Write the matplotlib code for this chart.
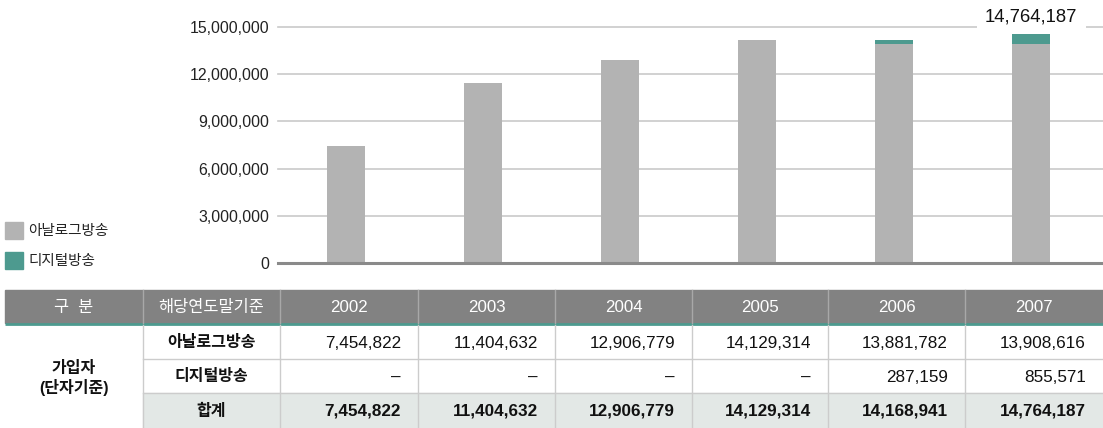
import matplotlib
matplotlib.use("Agg")
import matplotlib.pyplot as plt
from matplotlib.patches import Rectangle

plt.rcParams['font.family'] = ['Liberation Sans', 'Noto Sans CJK KR', 'DejaVu Sans']

# ---- data -------------------------------------------------------------
years = ["2002", "2003", "2004", "2005", "2006", "2007"]
analog = [7454822, 11404632, 12906779, 14129314, 13881782, 13908616]
digital = [0, 0, 0, 0, 287159, 855571]
series_names = ["아날로그방송", "디지털방송"]
total_name = "합계"
group_label = "가입자\n(단자기준)"
header_labels = ["구  분", "해당연도말기준"]
y_ticks = [0, 3000000, 6000000, 9000000, 12000000, 15000000]

totals = [a + d for a, d in zip(analog, digital)]

# ---- colours ----------------------------------------------------------
C_ANALOG = "#b3b3b3"
C_DIGITAL = "#4d9a8f"
C_GRID = "#c9c9c9"
C_BASE = "#8a8a8a"
C_HEAD = "#828282"
C_TOTAL = "#e3e8e6"
C_LINE = "#cccccc"

W, H = 1103, 428
fig = plt.figure(figsize=(W / 100, H / 100), dpi=100)


def fx(px):
    return px / W


def fy(py):
    return 1 - py / H


# ---- bar chart --------------------------------------------------------
ax_left, ax_right = 278, 1103
ax_top, ax_bottom = 26.7, 263.3
ax = fig.add_axes([fx(ax_left), fy(ax_bottom), fx(ax_right - ax_left), (ax_bottom - ax_top) / H])
x = list(range(len(years)))
step = 137.0
first_center = 346
ax.set_xlim((ax_left - first_center) / step, (ax_right - first_center) / step)
ax.set_ylim(0, 15000000)

bw = 38 / step
ax.bar(x, analog, width=bw, color=C_ANALOG, zorder=3)
ax.bar(x, digital, width=bw, bottom=analog, color=C_DIGITAL, zorder=3)

for t in y_ticks[1:]:
    ax.axhline(t, color=C_GRID, lw=1.2, zorder=1, clip_on=False)
ax.axhline(0, color=C_BASE, lw=2.2, zorder=4, clip_on=False)

ax.set_yticks(y_ticks)
ax.set_yticklabels([f"{v:,}" for v in y_ticks], fontsize=11.4, color="#222222")
ax.tick_params(axis='y', length=0, pad=6.5)
ax.set_xticks([])
for s in ax.spines.values():
    s.set_visible(False)
ax.patch.set_alpha(0)

ax.annotate(f"{totals[-1]:,}", xy=(x[-1], 15000000), xytext=(0, 7),
            textcoords="offset points", ha="center", va="center",
            fontsize=13.3, color="#111111", zorder=6, annotation_clip=False,
            bbox=dict(boxstyle="square,pad=0.45", fc="white", ec="none"))

# ---- overlay in pixel coordinates (legend + table) ---------------------
ov = fig.add_axes([0, 0, 1, 1])
ov.set_xlim(0, W)
ov.set_ylim(H, 0)
ov.axis("off")
ov.patch.set_alpha(0)

# legend
for i, (name, col) in enumerate(zip(series_names, [C_ANALOG, C_DIGITAL])):
    y0 = 222 + i * 30
    ov.add_patch(Rectangle((5, y0), 18, 17, color=col))
    ov.text(28, y0 + 8.5, name, fontsize=10.5, va="center", ha="left", color="#222222")

# table geometry
col_edges = [5, 143, 280, 418, 555, 692, 828, 965, 1103]
head_top, head_bot = 290, 323
row_edges = [325, 359, 393, 428]

# header
ov.add_patch(Rectangle((col_edges[0], head_top), col_edges[-1] - col_edges[0],
                       head_bot - head_top, color=C_HEAD))
ov.plot([col_edges[0], col_edges[-1]], [324, 324], color=C_DIGITAL, lw=2.0, solid_capstyle="butt")
for xe in col_edges[1:-1]:
    ov.plot([xe, xe], [head_top, head_bot], color="#a8a8a8", lw=1.0)
for j, txt in enumerate(header_labels + years):
    cx = (col_edges[j] + col_edges[j + 1]) / 2
    size = 11.8 if j < 2 else 12.2
    ov.text(cx, (head_top + head_bot) / 2 + 1, txt, color="white", fontsize=size,
            ha="center", va="center")

# total row shading
ov.add_patch(Rectangle((col_edges[1], row_edges[2]), col_edges[-1] - col_edges[1],
                       row_edges[3] - row_edges[2], color=C_TOTAL))

# grid lines of body
for ye in row_edges[1:3]:
    ov.plot([col_edges[1], col_edges[-1]], [ye, ye], color=C_LINE, lw=1.0)
for xe in col_edges[1:-1]:
    ov.plot([xe, xe], [row_edges[0], row_edges[-1]], color=C_LINE, lw=1.0)

# group label
ov.text((col_edges[0] + col_edges[1]) / 2, (row_edges[0] + row_edges[-1]) / 2 + 2,
        group_label, fontsize=11.5, fontweight="bold", ha="center", va="center",
        linespacing=1.2, color="#111111")

# rows
row_names = series_names + [total_name]
row_vals = [analog, digital, totals]
for r, (name, vals) in enumerate(zip(row_names, row_vals)):
    cy = (row_edges[r] + row_edges[r + 1]) / 2 + 1
    weight = "bold" if r == 2 else "normal"
    ov.text((col_edges[1] + col_edges[2]) / 2, cy, name, fontsize=11.5,
            fontweight="bold", ha="center", va="center", color="#111111")
    for j, v in enumerate(vals):
        txt = f"{v:,}" if v else "–"
        ov.text(col_edges[j + 3] - 17, cy, txt, fontsize=12.3, fontweight=weight,
                ha="right", va="center", color="#111111")

fig.savefig("out.png", dpi=100)
